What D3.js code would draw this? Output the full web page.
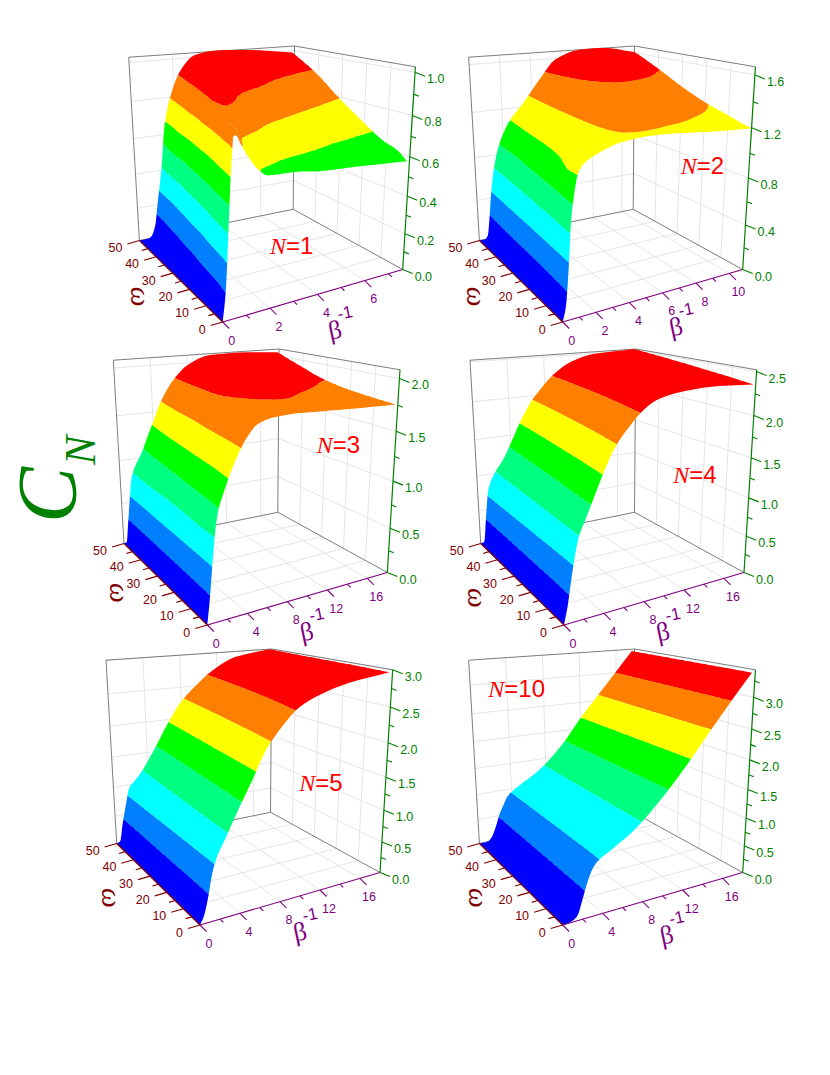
<!DOCTYPE html>
<html><head><meta charset="utf-8">
<script src="https://cdn.jsdelivr.net/npm/d3@7"></script>
<style>html,body{margin:0;background:#fff}svg{display:block;font-family:"Liberation Sans",Arial,sans-serif}</style>
</head><body><svg id="c" width="830" height="1075"></svg>
<script>
// ---------- data ----------
const bandColors=["#0000ff","#0080ff","#00ffff","#00ff80","#00ff00","#ffff00","#ff8000","#ff0000"];
const omegaTicks=[0,10,20,30,40,50];
const omegaMinor=[5,15,25,35,45];

const beta1=[0,.15,.3,.45,.6,.8,1,1.25,1.5,1.9,2.3,3,4,5.5,7.5];
const omega1=[0,5,10,20,30,40,50];
const c1=[
[0,.13,.39,.68,.85,.80,.75,.70,.66,.62,.615,.61,.59,.575,.55],
[0,.06,.2,.5,.7,.86,.84,.77,.71,.68,.66,.635,.62,.605,.593],
[0,.02,.12,.33,.58,.78,.885,.885,.84,.79,.76,.71,.675,.635,.61],
[0,0,.03,.13,.25,.54,.74,.91,.94,.93,.895,.84,.795,.74,.685],
[0,0,.005,.03,.13,.3,.55,.75,.89,.95,.97,.95,.915,.85,.775],
[0,0,0,.005,.03,.15,.3,.63,.76,.91,.97,.985,.97,.94,.89],
[0,0,0,0,.01,.06,.2,.38,.63,.81,.92,1.01,1.03,1.02,.985]];

const beta2=[0,.2,.4,.6,.8,1,1.3,1.7,2.4,3.5,4.7,5.6,7.2,8.5,10.8];
const omega2=[0,5,10,20,30,40,50];
const c2=[
[0,.1,.36,.73,.92,1.05,1.12,1.155,1.195,1.235,1.245,1.24,1.215,1.19,1.155],
[0,.03,.26,.63,.85,1.06,1.13,1.17,1.21,1.25,1.265,1.27,1.26,1.235,1.18],
[0,.01,.2,.52,.75,.92,1.06,1.11,1.18,1.25,1.285,1.305,1.31,1.28,1.21],
[0,0,.07,.36,.6,.78,.93,1.03,1.15,1.25,1.36,1.4,1.42,1.38,1.27],
[0,0,.01,.23,.47,.66,.84,.96,1.12,1.25,1.36,1.43,1.47,1.46,1.36],
[0,0,0,.14,.35,.54,.72,.9,1.08,1.24,1.39,1.49,1.57,1.58,1.48],
[0,0,0,.03,.2,.42,.65,.84,1.03,1.21,1.43,1.58,1.66,1.665,1.6]];

const beta3=[0,.3,.6,.9,1.3,1.8,2.5,3.3,4,5,6.5,8,10.5,13.5,17.8];
const omega3=[0,10,20,30,40,50];
const c3=[
[0,.23,.53,.81,1.04,1.18,1.36,1.53,1.65,1.76,1.80,1.805,1.787,1.76,1.727],
[0,.15,.45,.75,.92,1.1,1.28,1.46,1.61,1.73,1.79,1.81,1.81,1.785,1.745],
[0,.1,.38,.66,.84,1.03,1.22,1.42,1.57,1.72,1.795,1.82,1.835,1.82,1.77],
[0,.05,.32,.6,.8,.95,1.15,1.35,1.5,1.68,1.83,1.88,1.90,1.88,1.82],
[0,.02,.26,.507,.79,.88,1.08,1.28,1.44,1.65,1.83,1.93,1.99,1.98,1.92],
[0,.005,.21,.45,.73,.86,.98,1.17,1.33,1.57,1.81,1.96,2.065,2.07,2.04]];

const beta4=[0,.4,.8,1.2,1.6,2.2,3,4,5,6.5,7.5,9,11,13.5,17.8];
const omega4=[0,12.5,25,37.5,50];
const c4=[
[0,.2,.48,.74,.94,1.1,1.32,1.6,1.85,2.09,2.22,2.34,2.385,2.395,2.34],
[0,.15,.45,.73,.91,1.065,1.255,1.525,1.775,2.035,2.17,2.31,2.4,2.43,2.385],
[0,.1,.42,.72,.88,1.03,1.19,1.45,1.7,1.98,2.12,2.28,2.41,2.46,2.43],
[0,.055,.39,.71,.86,.995,1.14,1.38,1.63,1.93,2.075,2.255,2.405,2.475,2.475],
[0,.01,.36,.7,.84,.96,1.09,1.31,1.56,1.88,2.03,2.23,2.40,2.49,2.52]];

const beta5=[0,.4,.8,1.3,1.8,2.5,3.3,4.2,5.2,6.5,8,9.5,11.5,14,17.7];
const omega5=[0,12.5,25,37.5,50];
const c5=[
[0,.1,.3,.64,.85,1.03,1.25,1.5,1.77,2.15,2.44,2.66,2.80,2.9,2.97],
[0,.08,.30,.63,.855,1.02,1.215,1.45,1.71,2.08,2.38,2.60,2.77,2.9,2.98],
[0,.06,.295,.62,.86,1.005,1.18,1.40,1.655,2.01,2.32,2.545,2.745,2.9,2.985],
[0,.04,.29,.61,.865,.99,1.145,1.35,1.60,1.94,2.26,2.49,2.72,2.9,2.99],
[0,.02,.29,.6,.87,.98,1.11,1.3,1.54,1.87,2.2,2.43,2.69,2.9,3.0]];

const beta6=[0,.5,1,1.5,2,2.5,3,3.5,5,7,10,12,14,16,17.7];
const omega6=[0,25,50];
const c6=[
[0,0,.02,.08,.3,.54,.72,.82,.96,1.16,1.63,2.03,2.49,2.97,3.38],
[0,0,.012,.08,.275,.505,.675,.80,.96,1.16,1.635,2.06,2.51,2.975,3.38],
[0,0,.005,.08,.25,.47,.63,.78,.96,1.16,1.64,2.1,2.53,2.98,3.38]];

const panels=[
 {n:"1",beta:beta1,omega:omega1,c:c1,step:.129,betaMax:7.6,zTop:1.025,
  bTicks:[0,2,4,6],bMinor:[1,3,5,7],zTicks:[0,.2,.4,.6,.8,1],zMinor:[.1,.3,.5,.7,.9],
  o:[222.7,322],label:[270,254],bt:[335,330],wt:[140,296.7]},
 {n:"2",beta:beta2,omega:omega2,c:c2,step:.21,betaMax:10.8,zTop:1.66,
  bTicks:[0,2,4,6,8,10],bMinor:[1,3,5,7,9],zTicks:[0,.4,.8,1.2,1.6],zMinor:[.2,.6,1,1.4],
  o:[562.7,322],label:[680.7,174],bt:[676,326.7],wt:[476,296.7]},
 {n:"3",beta:beta3,omega:omega3,c:c3,step:.26,betaMax:18,zTop:2.08,
  bTicks:[0,4,8,12,16],bMinor:[2,6,10,14],zTicks:[0,.5,1,1.5,2],zMinor:[.25,.75,1.25,1.75],
  o:[207.3,625],label:[316.7,453.3],bt:[306.7,631.7],wt:[119,593]},
 {n:"4",beta:beta4,omega:omega4,c:c4,step:.316,betaMax:18,zTop:2.52,
  bTicks:[0,4,8,12,16],bMinor:[2,6,10,14],zTicks:[0,.5,1,1.5,2,2.5],zMinor:[.25,.75,1.25,1.75,2.25],
  o:[564,625],label:[673.3,483.3],bt:[663,631.7],wt:[477,598]},
 {n:"5",beta:beta5,omega:omega5,c:c5,step:.375,betaMax:18,zTop:3.0,
  bTicks:[0,4,8,12,16],bMinor:[2,6,10,14],zTicks:[0,.5,1,1.5,2,2.5,3],zMinor:[.25,.75,1.25,1.75,2.25,2.75],
  o:[200,925],label:[299.3,790.7],bt:[300,931.7],wt:[111.7,898]},
 {n:"10",beta:beta6,omega:omega6,c:c6,step:.4225,betaMax:18,zTop:3.42,
  bTicks:[0,4,8,12,16],bMinor:[2,6,10,14],zTicks:[0,.5,1,1.5,2,2.5,3],zMinor:[.25,.75,1.25,1.75,2.25,2.75,3.25],
  o:[562.7,925],label:[488.3,696.7],bt:[666.7,935],wt:[478,898]}
];

// ---------- box shape shared by all panels (offsets from the near corner, px) ----------
const floorR=[180,-52.5],floorL=[-83.3,-81.5],floorB=[70.5,-112.7];
const riseO=[-4.5,-226.7],riseR=[12.7,-202.7],riseL=[-10.7,-183.3],riseB=[1.3,-163.3];
const C_BETA="#800080",C_OMEGA="#800000",C_Z="#008000";

function pchip(xs,ys){
  const n=xs.length,h=[],d=[],m=new Array(n);
  for(let i=0;i<n-1;i++){h[i]=xs[i+1]-xs[i];d[i]=(ys[i+1]-ys[i])/h[i];}
  m[0]=d[0];m[n-1]=d[n-2];
  for(let i=1;i<n-1;i++){
    if(d[i-1]*d[i]<=0)m[i]=0;
    else{const a=2*h[i]+h[i-1],b=h[i]+2*h[i-1];m[i]=(a+b)/(a/d[i-1]+b/d[i]);}
  }
  return x=>{
    let i=d3.bisectRight(xs,x)-1;i=Math.max(0,Math.min(n-2,i));
    const t=(x-xs[i])/h[i],t2=t*t,t3=t2*t;
    return (2*t3-3*t2+1)*ys[i]+(t3-2*t2+t)*h[i]*m[i]+(-2*t3+3*t2)*ys[i+1]+(t3-t2)*h[i]*m[i+1];
  };
}
function fineAxis(xs,k){const o=[];for(let i=0;i<xs.length-1;i++){const f=d3.interpolateNumber(xs[i],xs[i+1]);for(let j=0;j<k;j++)o.push(f(j/k));}o.push(xs[xs.length-1]);return o;}

const svg=d3.select("#c");
const lineGen=d3.line();

function clipZ(poly,lo,hi){
  function clip(pts,keep,val){
    const out=[];
    for(let i=0;i<pts.length;i++){
      const a=pts[i],b=pts[(i+1)%pts.length],ka=keep(a.z),kb=keep(b.z);
      if(ka)out.push(a);
      if(ka!==kb){const r=(val-a.z)/(b.z-a.z);out.push({x:a.x+(b.x-a.x)*r,y:a.y+(b.y-a.y)*r,z:val});}
    }
    return out;
  }
  let p=clip(poly,z=>z>=lo,lo);
  if(p.length)p=clip(p,z=>z<=hi,hi);
  return p;
}

panels.forEach(P=>{
  const g=svg.append("g");
  const u=d3.scaleLinear([0,P.betaMax],[0,1]);
  const v=d3.scaleLinear([0,50],[0,1]);
  const tz=d3.scaleLinear([0,P.zTop],[0,1]);
  const axisT=z=>{const t=tz(z);return t*(.88+.12*t);};  // tick spacing widens upward (perspective)
  const bil=(A,B,C,D,a,b,k)=>(A[k]*(1-a)*(1-b)+B[k]*a*(1-b)+C[k]*(1-a)*b+D[k]*a*b);
  const ZERO=[0,0];
  const proj=(a,b,t)=>[
    P.o[0]+bil(ZERO,floorR,floorL,floorB,a,b,0)+bil(riseO,riseR,riseL,riseB,a,b,0)*t,
    P.o[1]+bil(ZERO,floorR,floorL,floorB,a,b,1)+bil(riseO,riseR,riseL,riseB,a,b,1)*t];
  const seg=(par,p,q,col,w)=>par.append("line").attr("x1",p[0]).attr("y1",p[1]).attr("x2",q[0]).attr("y2",q[1]).attr("stroke",col).attr("stroke-width",w);

  // grid
  const grid=g.append("g");
  const GC="#dedede",GW=.8;
  P.bTicks.filter(b=>b>0).forEach(b=>{
    seg(grid,proj(u(b),0,0),proj(u(b),1,0),GC,GW);
    seg(grid,proj(u(b),1,0),proj(u(b),1,1),GC,GW);
  });
  omegaTicks.filter(w=>w>0&&w<50).forEach(w=>{
    seg(grid,proj(0,v(w),0),proj(1,v(w),0),GC,GW);
    seg(grid,proj(1,v(w),0),proj(1,v(w),1),GC,GW);
  });
  P.zTicks.filter(z=>z>0).forEach(z=>{
    seg(grid,proj(0,1,axisT(z)),proj(1,1,axisT(z)),GC,GW);
    seg(grid,proj(1,1,axisT(z)),proj(1,0,axisT(z)),GC,GW);
  });
  // frame
  const FC="#6e6e6e",FW=.9;
  [[0,1,0,0,1,1],[0,1,1,1,1,1],[1,1,1,1,0,1],[1,1,0,1,1,1],[0,1,0,1,1,0],[1,1,0,1,0,0]].forEach(s=>{
    const [a1,b1,t1,a2,b2,t2]=s;
    seg(grid,proj(a1,b1,t1),proj(a2,b2,t2),FC,FW);
  });

  // N label
  const lab=g.append("text").attr("x",P.label[0]).attr("y",P.label[1]).attr("font-size",24).attr("fill","#ff0000");
  lab.append("tspan").attr("font-family","Liberation Serif").attr("font-style","italic").text("N");
  lab.append("tspan").text("="+P.n);

  // surface: refine, then draw strip by strip from the far corner to the near corner.
  // Each strip reaches a little under the one behind it so no background shows at the joins.
  const fb=fineAxis(P.beta,4),fw=fineAxis(P.omega,P.omega.length>3?4:8);
  const rowsFine=P.c.map(r=>{const f=pchip(P.beta,r);return fb.map(f);});
  const cols=fb.map((_,i)=>{const f=pchip(P.omega,rowsFine.map(r=>r[i]));return fw.map(f);});
  const surf=g.append("g");
  const ptAt=(i,w,zz)=>{const z=Math.max(0,zz);const q=proj(u(fb[i]),v(w),tz(z));return {x:q[0],y:q[1],z};};
  const pt=(i,j)=>ptAt(i,fw[j],cols[i][j]);
  const under=(i,j)=>{ // point 40% of the way into the strip behind row j
    if(j+1>=fw.length)return pt(i,j);
    return ptAt(i,fw[j]+(fw[j+1]-fw[j])*.4,cols[i][j]+(cols[i][j+1]-cols[i][j])*.4);
  };
  for(let j=fw.length-2;j>=0;j--){
    const strip=new Map();
    for(let i=fb.length-2;i>=0;i--){
      const poly=[pt(i,j),pt(i+1,j),under(i+1,j+1),under(i,j+1)];
      const zs=poly.map(p=>p.z);
      const k0=Math.min(7,Math.floor(d3.min(zs)/P.step)),k1=Math.min(7,Math.floor(d3.max(zs)/P.step));
      for(let k=k1;k>=k0;k--){
        const lo=k*P.step,hi=k===7?1e9:(k+1)*P.step;
        const cp=clipZ(poly,lo,hi);
        if(cp.length<3)continue;
        strip.set(k,(strip.get(k)||"")+lineGen(cp.map(p=>[p.x,p.y]))+"Z");
      }
    }
    strip.forEach((d,k)=>surf.append("path").attr("d",d).attr("fill",bandColors[k]));
  }

  // axes
  const ax=g.append("g");
  seg(ax,proj(0,0,0),proj(1,0,0),C_BETA,1.2);
  seg(ax,proj(0,0,0),proj(0,1,0),C_OMEGA,1.2);
  seg(ax,proj(1,0,0),proj(1,0,1),C_Z,1.2);
  const txt=(x,y,s,col,anchor)=>ax.append("text").attr("x",x).attr("y",y).attr("fill",col).attr("font-size",12.5)
     .attr("text-anchor",anchor).attr("dominant-baseline","central").text(s);
  const tick=(p,dx,dy,col)=>seg(ax,p,[p[0]+dx,p[1]+dy],col,1.1);
  P.bTicks.forEach(b=>{const p=proj(u(b),0,0);tick(p,6.5,6.5,C_BETA);txt(p[0]+9,p[1]+18.5,b,C_BETA,"middle");});
  P.bMinor.forEach(b=>tick(proj(u(b),0,0),3.3,3.3,C_BETA));
  omegaTicks.forEach(w=>{const p=proj(0,v(w),0);tick(p,-12,3.5,C_OMEGA);txt(p[0]-17,p[1]+7.5,w,C_OMEGA,"end");});
  omegaMinor.forEach(w=>tick(proj(0,v(w),0),-6,1.8,C_OMEGA));
  P.zTicks.forEach(z=>{const p=proj(1,0,axisT(z));tick(p,10,4,C_Z);txt(p[0]+12,p[1]+7,z.toFixed(1),C_Z,"start");});
  P.zMinor.forEach(z=>tick(proj(1,0,axisT(z)),5,2,C_Z));

  // axis titles
  ax.append("text").attr("transform",`translate(${P.bt[0]},${P.bt[1]}) rotate(-12)`).attr("font-family","Liberation Serif")
    .attr("font-size",26).attr("fill",C_BETA).attr("text-anchor","middle").attr("dominant-baseline","central").text("β");
  ax.append("text").attr("transform",`translate(${P.bt[0]+10},${P.bt[1]-17}) rotate(-12)`)
    .attr("font-size",17).attr("fill",C_BETA).attr("text-anchor","middle").attr("dominant-baseline","central").text("-1");
  ax.append("text").attr("transform",`translate(${P.wt[0]},${P.wt[1]}) rotate(90)`).attr("font-family","Liberation Serif").attr("font-style","italic")
    .attr("font-size",28).attr("fill",C_OMEGA).attr("text-anchor","middle").attr("dominant-baseline","central").text("ω");
});

// overall C_N title
svg.append("text").attr("transform","translate(76,523) rotate(-90)").attr("font-family","Liberation Serif").attr("font-style","italic")
  .attr("font-size",84).attr("fill","#008000").text("C");
svg.append("text").attr("transform","translate(95,465) rotate(-90)").attr("font-family","Liberation Serif").attr("font-style","italic")
  .attr("font-size",44).attr("fill","#008000").text("N");
</script></body></html>
